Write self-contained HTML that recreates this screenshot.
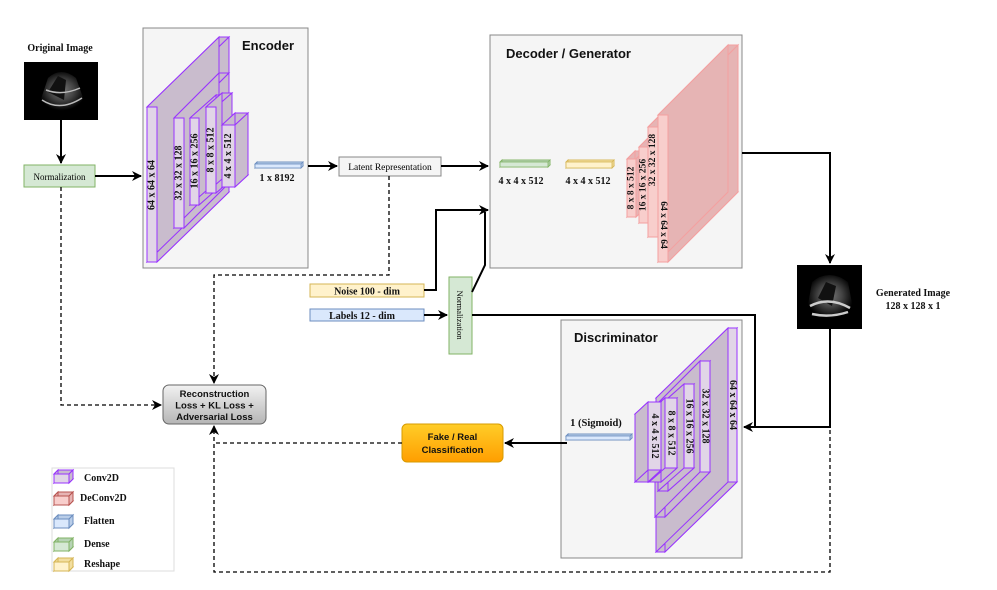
<!DOCTYPE html>
<html><head><meta charset="utf-8"><style>
body{margin:0;background:#fff}
svg{display:block}
.s{font-family:"Liberation Serif",serif;font-weight:bold;fill:#111}
.a{font-family:"Liberation Sans",sans-serif;font-weight:bold;fill:#111}
</style></head><body>
<svg id="g" width="997" height="590" viewBox="0 0 997 590" xmlns="http://www.w3.org/2000/svg">
<defs>
<marker id="ar" markerWidth="10" markerHeight="10" refX="9" refY="5" orient="auto" markerUnits="userSpaceOnUse"><path d="M0,0 L10,5 L0,10 L3,5 z" fill="#000"/></marker>
<linearGradient id="lg" x1="0" y1="0" x2="0" y2="1"><stop offset="0" stop-color="#f2f2f2"/><stop offset="1" stop-color="#b5b5b5"/></linearGradient>
<linearGradient id="og" x1="0" y1="0" x2="0" y2="1"><stop offset="0" stop-color="#ffcd28"/><stop offset="1" stop-color="#ff9e00"/></linearGradient>
<radialGradient id="us" cx="0.5" cy="0.45" r="0.5"><stop offset="0" stop-color="#777"/><stop offset="0.5" stop-color="#444"/><stop offset="1" stop-color="#000"/></radialGradient>
</defs>
<rect x="143" y="28" width="165" height="240" fill="#f5f5f5" stroke="#888"/>
<text x="242" y="50" class="a" font-size="13">Encoder</text>
<rect x="490" y="35" width="252" height="233" fill="#f5f5f5" stroke="#888"/>
<text x="506" y="58" class="a" font-size="13">Decoder / Generator</text>
<rect x="561" y="320" width="181" height="238" fill="#f5f5f5" stroke="#888"/>
<text x="574" y="342" class="a" font-size="13">Discriminator</text>
<g id="layers"></g>
<text x="60" y="51" class="s" font-size="10" text-anchor="middle">Original Image</text>
<rect x="24" y="62" width="74" height="58" fill="#000"/>
<path d="M38,108 L48,78 Q61,66 76,78 L86,106 Q61,118 38,108 z" fill="url(#us)"/>
<path d="M48,92 L58,76 L66,80 L64,100 Z" fill="#111"/>
<path d="M42,100 Q60,112 82,98 M46,90 Q62,96 80,88" stroke="#bbb" stroke-width="1.5" fill="none"/>
<rect x="797" y="265" width="65" height="64" fill="#000"/>
<path d="M806,316 L812,282 Q829,268 848,282 L854,314 Q829,326 806,316 z" fill="url(#us)"/>
<path d="M818,298 L826,282 L836,286 L832,306 Z" fill="#111"/>
<path d="M810,306 Q829,296 850,308 M812,314 Q830,318 848,312" stroke="#ccc" stroke-width="2.5" fill="none"/>
<text x="913" y="296" class="s" font-size="10" text-anchor="middle">Generated Image</text>
<text x="913" y="309" class="s" font-size="10" text-anchor="middle">128 x 128 x 1</text>
<rect x="24" y="165" width="71" height="22" fill="#d5e8d4" stroke="#82b366"/>
<text x="59.5" y="180" font-family="Liberation Serif,serif" font-size="9" text-anchor="middle">Normalization</text>
<rect x="339" y="157" width="102" height="19" fill="#f5f5f5" stroke="#888"/>
<text x="390" y="170" font-family="Liberation Serif,serif" font-size="9.5" text-anchor="middle">Latent Representation</text>
<rect x="310" y="284" width="114" height="13" fill="#fff2cc" stroke="#d6b656"/>
<text x="367" y="294.5" class="s" font-size="10" text-anchor="middle">Noise 100 - dim</text>
<rect x="310" y="309" width="114" height="12" fill="#dae8fc" stroke="#6c8ebf"/>
<text x="362" y="319" class="s" font-size="10" text-anchor="middle">Labels 12 - dim</text>
<rect x="449" y="277" width="23" height="77" fill="#d5e8d4" stroke="#82b366"/>
<text transform="translate(457,315) rotate(90)" font-family="Liberation Serif,serif" font-size="8.5" text-anchor="middle">Normalization</text>
<rect x="163" y="385" width="103" height="39" rx="6" fill="url(#lg)" stroke="#666"/>
<text x="214.5" y="397" class="a" font-size="9.5" text-anchor="middle">Reconstruction</text>
<text x="214.5" y="408.5" class="a" font-size="9.5" text-anchor="middle">Loss + KL Loss +</text>
<text x="214.5" y="420" class="a" font-size="9.5" text-anchor="middle">Adversarial Loss</text>
<rect x="402" y="424" width="101" height="38" rx="5" fill="url(#og)" stroke="#d79b00"/>
<text x="452.5" y="440" class="a" font-size="9.5" fill="#222" text-anchor="middle">Fake / Real</text>
<text x="452.5" y="453" class="a" font-size="9.5" fill="#222" text-anchor="middle">Classification</text>
<text x="277" y="181" class="s" font-size="10" text-anchor="middle">1 x 8192</text>
<text x="521" y="184" class="s" font-size="10" text-anchor="middle">4 x 4 x 512</text>
<text x="588" y="184" class="s" font-size="10" text-anchor="middle">4 x 4 x 512</text>
<text x="596" y="426" class="s" font-size="10.5" text-anchor="middle">1 (Sigmoid)</text>
<rect x="52" y="468" width="122" height="103" fill="#fff" stroke="#ddd"/>
<g id="leg"></g>
<text x="84" y="481" class="s" font-size="10">Conv2D</text>
<text x="80" y="501" class="s" font-size="10">DeConv2D</text>
<text x="84" y="524" class="s" font-size="10">Flatten</text>
<text x="84" y="547" class="s" font-size="10">Dense</text>
<text x="84" y="567" class="s" font-size="10">Reshape</text>
<g stroke="#000" stroke-width="2" fill="none">
<path d="M61,120 V163" marker-end="url(#ar)"/>
<path d="M95,176 H141" marker-end="url(#ar)"/>
<path d="M308,166 H337" marker-end="url(#ar)"/>
<path d="M441,166 H488" marker-end="url(#ar)"/>
<path d="M424,290 H436 V210 H488" marker-end="url(#ar)"/>
<path d="M472,292 L485,265 V212"/>
<path d="M424,315 H447" marker-end="url(#ar)"/>
<path d="M472,315 H755 V427"/>
<path d="M742,153 H830 V263" marker-end="url(#ar)"/>
<path d="M830,329 V427 H744" marker-end="url(#ar)"/>
<path d="M567,443 H505" marker-end="url(#ar)"/>
</g>
<g stroke="#000" stroke-width="1.3" fill="none" stroke-dasharray="4,3">
<path d="M61,187 V405 H161" marker-end="url(#ar)"/>
<path d="M389,176 V275 H214 V383" marker-end="url(#ar)"/>
<path d="M830,430 V572 H214 V426" marker-end="url(#ar)"/>
<path d="M402,443 H214"/>
</g>
</svg>
<script>
var NS="http://www.w3.org/2000/svg",L=document.getElementById("layers");
function el(t,a,p){var e=document.createElementNS(NS,t);for(var k in a)e.setAttribute(k,a[k]);(p||L).appendChild(e);return e}
function box(x,y,w,h,dx,dy,fill,side,st,sw,p){
 var P=function(a){return a.map(function(q){return q.join(",")}).join(" ")};
 el("rect",{x:x+dx,y:y+dy,width:w,height:h,fill:side,stroke:st,"stroke-width":sw},p);
 el("polygon",{points:P([[x,y],[x+dx,y+dy],[x+dx+w,y+dy],[x+w,y]]),fill:side,stroke:st,"stroke-width":sw},p);
 el("polygon",{points:P([[x,y+h],[x+dx,y+h+dy],[x+dx+w,y+h+dy],[x+w,y+h]]),fill:side,stroke:st,"stroke-width":sw},p);
 el("polygon",{points:P([[x+w,y],[x+w+dx,y+dy],[x+w+dx,y+h+dy],[x+w,y+h]]),fill:side,stroke:st,"stroke-width":sw},p);
 el("polygon",{points:P([[x,y],[x+dx,y+dy],[x+dx,y+h+dy],[x,y+h]]),fill:side,stroke:st,"stroke-width":sw},p);
 el("rect",{x:x,y:y,width:w,height:h,fill:fill,stroke:st,"stroke-width":sw},p);
}
function txt(x,y,r,s,fs){var t=el("text",{transform:"translate("+x+","+y+") rotate("+r+")","text-anchor":"middle","dominant-baseline":"central","class":"s","font-size":fs||10});t.textContent=s}
var PF="#e1d5e7",PS="#c9bccd",PST="#9933ff";
box(147,107,10,155,72,-70,PF,PS,PST,1);txt(152,185,-90,"64 x 64 x 64");
box(174,118,10,110,45,-45,PF,PS,PST,1);txt(179,173,-90,"32 x 32 x 128");
box(190,118,9,87,26,-23,PF,PS,PST,1);txt(195,161,-90,"16 x 16 x 256");
box(206,107,10,86,16,-14,PF,PS,PST,1);txt(211,150,-90,"8 x 8 x 512");
box(222,125,13,62,13,-12,PF,PS,PST,1);txt(228.5,156,-90,"4 x 4 x 512");
box(255,164,46,4,2,-2,"#dae8fc","#b9cde8","#6c8ebf",0.8);
box(500,162,48,5,2,-2,"#d5e8d4","#b7d3b5","#82b366",0.8);
box(566,162,46,6,2,-2,"#fff2cc","#f2dea0","#d6b656",0.8);
box(566,436,64,4,2,-2,"#dae8fc","#b9cde8","#6c8ebf",0.8);
var RF="#f8cecc",RS="#e6b4b4",RST="#f4a0a0";
box(627,159,9,58,8,-8,RF,RS,RST,1);
box(639,147,9,76,12,-12,RF,RS,RST,1);
box(648,127,10,110,20,-20,RF,RS,RST,1);
box(658,115,10,147,70,-70,RF,RS,RST,1);
txt(631.5,188,-90,"8 x 8 x 512",9.5);txt(643.5,185,-90,"16 x 16 x 256",9.5);txt(653,160,-90,"32 x 32 x 128",9.5);txt(663,225,90,"64 x 64 x 64",9.5);
box(728,328,9,154,-72,70,PF,PS,PST,1);
box(700,361,10,111,-45,45,PF,PS,PST,1);
box(684,384,10,84,-26,23,PF,PS,PST,1);
box(665,398,12,70,-16,14,PF,PS,PST,1);
box(648,402,13,68,-13,12,PF,PS,PST,1);
txt(732.5,405,90,"64 x 64 x 64");txt(705,416,90,"32 x 32 x 128");txt(689,426,90,"16 x 16 x 256");txt(671,433,90,"8 x 8 x 512");txt(654.5,436,90,"4 x 4 x 512");
var G=document.getElementById("leg");
[["#e1d5e7","#c8bccc","#9933ff",470],["#f8cecc","#e6b4b4","#b85450",492],["#dae8fc","#b9cde8","#6c8ebf",515],["#d5e8d4","#b7d3b5","#82b366",538],["#fff2cc","#f2dea0","#d6b656",558]].forEach(function(c){box(54,c[3]+4,15,9,4,-4,c[0],c[1],c[2],1,G)});
</script>
</body></html>
